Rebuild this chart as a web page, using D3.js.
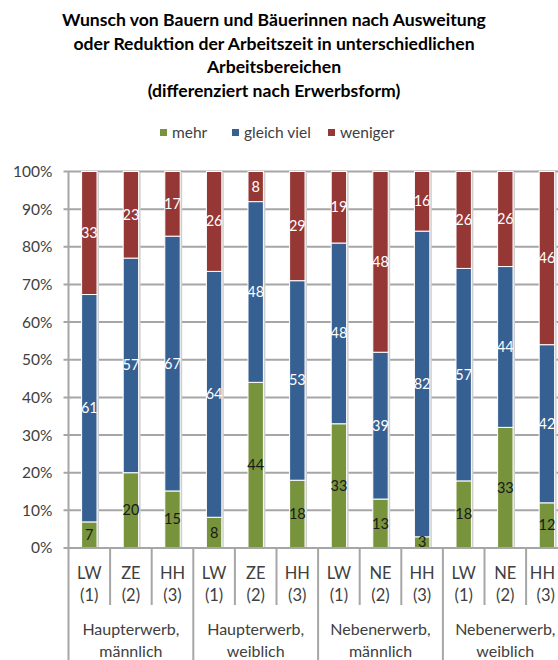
<!DOCTYPE html>
<html>
<head>
<meta charset="utf-8">
<script src="https://cdn.jsdelivr.net/npm/d3@7"></script>
<style>
  body { margin: 0; background: #fff; }
  svg { display: block; font-family: Lato, "Open Sans", sans-serif; }
</style>
</head>
<body>
<script>
// data
const categories = ["LW (1)", "ZE (2)", "HH (3)", "LW (1)", "ZE (2)", "HH (3)",
                    "LW (1)", "NE (2)", "HH (3)", "LW (1)", "NE (2)", "HH (3)"]
const groups = ["Haupterwerb, männlich", "Haupterwerb, weiblich", "Nebenerwerb, männlich", "Nebenerwerb, weiblich"]
const mehr      = [7, 20, 15, 8, 44, 18, 33, 13, 3, 18, 33, 12]
const gleichViel = [61, 57, 67, 64, 48, 53, 48, 39, 82, 57, 44, 42]
const weniger   = [33, 23, 17, 26, 8, 29, 19, 48, 16, 26, 26, 46]
const seriesNames = ["mehr", "gleich viel", "weniger"]
const yTicks = [0, 0.1, 0.2, 0.3, 0.4, 0.5, 0.6, 0.7, 0.8, 0.9, 1]

const colors = ["#77933c", "#376092", "#953735"]
const labelColors = ["#1a1a1a", "#ffffff", "#ffffff"]

const w = 558
const h = 660
const plotLeft = 68.5
const plotRight = 567.7
const plotTop = 171.5
const plotBottom = 548

const svg = d3.select("body").append("svg").attr("width", w).attr("height", h)

// title
const titleLines = ["Wunsch von Bauern und Bäuerinnen nach Ausweitung",
                    "oder Reduktion der Arbeitszeit in unterschiedlichen",
                    "Arbeitsbereichen",
                    "(differenziert nach Erwerbsform)"]
svg.append("text")
    .attr("text-anchor", "middle")
    .attr("font-weight", "bold")
    .attr("font-size", 17.6)
    .attr("fill", "#000")
    .selectAll("tspan")
    .data(titleLines)
    .enter()
    .append("tspan")
    .attr("x", 274)
    .attr("y", (d, i) => 26 + i * 23.5)
    .text(d => d)

// legend
const legendX = [160, 232, 328]
const legend = svg.append("g").selectAll("g")
    .data(seriesNames)
    .enter()
    .append("g")
    .attr("transform", (d, i) => "translate(" + legendX[i] + ",133)")
legend.append("rect")
    .attr("x", 0).attr("y", -4)
    .attr("width", 7).attr("height", 7)
    .attr("fill", (d, i) => colors[i])
legend.append("text")
    .attr("x", 12).attr("y", 5)
    .attr("font-size", 15.5)
    .attr("fill", "#404040")
    .text(d => d)

// stacked, normalised to 100%
const rows = categories.map((c, i) => {
    const tot = mehr[i] + gleichViel[i] + weniger[i]
    return { i: i, vals: [mehr[i], gleichViel[i], weniger[i]], tot: tot }
})

const xScale = d3.scaleBand()
    .domain(d3.range(categories.length))
    .range([plotLeft, plotRight])
    .paddingInner(0.63)
    .paddingOuter(0.315)

const yScale = d3.scaleLinear().domain([0, 1]).range([plotBottom, plotTop])

// gridlines
svg.append("g")
    .selectAll("line")
    .data(yTicks)
    .enter()
    .append("line")
    .attr("x1", plotLeft - 5)
    .attr("x2", w)
    .attr("y1", d => yScale(d))
    .attr("y2", d => yScale(d))
    .attr("stroke", "#a6a6a6")
    .attr("stroke-width", 2)

const yAxis = d3.axisLeft(yScale)
    .tickValues(yTicks)
    .tickFormat(d3.format(".0%"))
    .tickSize(0)
    .tickPadding(16)
const yg = svg.append("g")
    .attr("transform", "translate(" + plotLeft + ",0)")
    .call(yAxis)
yg.select(".domain").remove()
yg.selectAll("text")
    .attr("font-size", 15.5)
    .attr("font-family", "Lato, sans-serif")
    .attr("fill", "#404040")

// bars
const segs = []
rows.forEach(r => {
    let acc = 0
    r.vals.forEach((v, k) => {
        segs.push({ i: r.i, k: k, v: v, y0: acc / r.tot, y1: (acc + v) / r.tot })
        acc += v
    })
})

const barG = svg.append("g")
// shadow
barG.selectAll("rect.shadow")
    .data(rows)
    .enter()
    .append("rect")
    .attr("class", "shadow")
    .attr("x", d => xScale(d.i) + 2)
    .attr("y", yScale(1) + 1)
    .attr("width", xScale.bandwidth())
    .attr("height", yScale(0) - yScale(1) - 1)
    .attr("fill", "#cfcfcf")

barG.selectAll("rect.seg")
    .data(segs)
    .enter()
    .append("rect")
    .attr("class", "seg")
    .attr("x", d => xScale(d.i))
    .attr("y", d => yScale(d.y1))
    .attr("width", xScale.bandwidth())
    .attr("height", d => yScale(d.y0) - yScale(d.y1))
    .attr("fill", d => colors[d.k])
    .attr("stroke", "#fff")
    .attr("stroke-width", 1)

barG.selectAll("text")
    .data(segs)
    .enter()
    .append("text")
    .attr("x", d => xScale(d.i) + xScale.bandwidth() / 2)
    .attr("y", d => (yScale(d.y0) + yScale(d.y1)) / 2 + 5)
    .attr("text-anchor", "middle")
    .attr("font-size", 14.5)
    .attr("fill", d => labelColors[d.k])
    .text(d => d.v)

// x axis lines
const step = xScale.step()
svg.append("line")
    .attr("x1", plotLeft).attr("x2", w)
    .attr("y1", plotBottom).attr("y2", plotBottom)
    .attr("stroke", "#a6a6a6").attr("stroke-width", 2)
svg.append("line")
    .attr("x1", plotLeft).attr("x2", plotLeft)
    .attr("y1", plotTop).attr("y2", h)
    .attr("stroke", "#a6a6a6").attr("stroke-width", 2)

svg.append("g")
    .selectAll("line")
    .data(d3.range(1, categories.length + 1))
    .enter()
    .append("line")
    .attr("x1", d => plotLeft + d * step)
    .attr("x2", d => plotLeft + d * step)
    .attr("y1", plotBottom)
    .attr("y2", d => d % 3 === 0 ? h : 605)
    .attr("stroke", "#a6a6a6").attr("stroke-width", 2)

// category labels (kept inside the window like the original does)
const catG = svg.append("g").selectAll("text")
    .data(categories)
    .enter()
    .append("text")
    .attr("text-anchor", "middle")
    .attr("font-size", 16.5)
    .attr("fill", "#404040")
catG.selectAll("tspan")
    .data((d, i) => d.split(" ").map(s => ({ s: s, i: i })))
    .enter()
    .append("tspan")
    .attr("y", (d, j) => 579 + j * 22)
    .text(d => d.s)
    .attr("x", function(d) {
        const cx = xScale(d.i) + xScale.bandwidth() / 2
        const half = this.getComputedTextLength() / 2
        return Math.min(cx, w - half - 3)
    })

const grpG = svg.append("g").selectAll("text")
    .data(groups)
    .enter()
    .append("text")
    .attr("text-anchor", "middle")
    .attr("font-size", 16)
    .attr("fill", "#404040")
grpG.selectAll("tspan")
    .data((d, i) => d.split(" ").map(s => ({ s: s, i: i })))
    .enter()
    .append("tspan")
    .attr("y", (d, j) => 635 + j * 22)
    .text(d => d.s)
    .attr("x", function(d) {
        const cx = plotLeft + (d.i * 3 + 1.5) * step
        const half = this.getComputedTextLength() / 2
        return Math.min(cx, w - half - 2)
    })
</script>
</body>
</html>
